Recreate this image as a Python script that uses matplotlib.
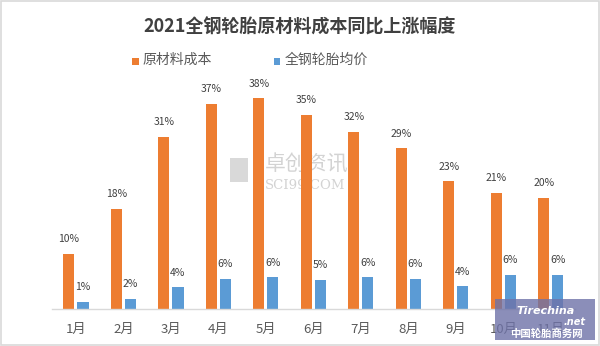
import matplotlib
matplotlib.use("Agg")
import matplotlib.pyplot as plt
from matplotlib.patches import Rectangle
import numpy as np

plt.rcParams['font.family'] = ['Noto Sans CJK SC', 'DejaVu Sans']

months = ["1月", "2月", "3月", "4月", "5月", "6月", "7月", "8月", "9月", "10月", "11月"]
raw_cost = [10, 18, 31, 37, 38, 35, 32, 29, 23, 21, 20]
raw_cost_labels = ["10%", "18%", "31%", "37%", "38%", "35%", "32%", "29%", "23%", "21%", "20%"]
tire_price = [1.3, 1.8, 3.9, 5.4, 5.7, 5.2, 5.7, 5.4, 4.1, 6.1, 6.1]
tire_price_labels = ["1%", "2%", "4%", "6%", "6%", "5%", "6%", "6%", "4%", "6%", "6%"]
series_names = ["原材料成本", "全钢轮胎均价"]
title = "2021全钢轮胎原材料成本同比上涨幅度"

c_orange = "#ED7D31"
c_blue = "#5B9BD5"
c_text = "#404040"

fig = plt.figure(figsize=(6.0, 3.46), dpi=100)
fig.patch.set_facecolor("white")
fig.patches.append(Rectangle((0.002, 0.003), 0.996, 0.994, transform=fig.transFigure,
                             fill=False, edgecolor="#D9D9D9", linewidth=1.2))

ax = fig.add_axes([0.087, 0.107, 0.8705, 0.676])
ax.patch.set_alpha(0)
x = np.arange(len(months))
w = 0.235
off = 0.148
b1 = ax.bar(x - off, raw_cost, width=w, color=c_orange, zorder=2)
b2 = ax.bar(x + off, tire_price, width=w, color=c_blue, zorder=2)

for rect, lab in zip(b1, raw_cost_labels):
    ax.annotate(lab, (rect.get_x() + rect.get_width() / 2, rect.get_height()),
                xytext=(0, 7), textcoords="offset points", ha="center", va="bottom",
                fontsize=7.5, color=c_text, zorder=3)
for rect, lab in zip(b2, tire_price_labels):
    ax.annotate(lab, (rect.get_x() + rect.get_width() / 2, rect.get_height()),
                xytext=(0, 7), textcoords="offset points", ha="center", va="bottom",
                fontsize=7.5, color=c_text, zorder=3)

ax.set_xlim(-0.5, len(months) - 0.5)
ax.set_ylim(0, 42.2)
ax.set_xticks(x)
ax.set_xticklabels(months, fontsize=9.5, color="#595959")
ax.tick_params(axis="x", length=0, pad=10)
ax.set_yticks([])
for s in ["top", "right", "left"]:
    ax.spines[s].set_visible(False)
ax.spines["bottom"].set_color("#D9D9D9")
ax.spines["bottom"].set_linewidth(1.0)

fig.text(0.5, 0.922, title, ha="center", va="center", fontsize=13, fontweight="bold",
         color=c_text)

# legend
fig.patches.append(Rectangle((0.220, 0.812), 0.011, 0.019, transform=fig.transFigure,
                             facecolor=c_orange, edgecolor="none"))
fig.text(0.238, 0.826, series_names[0], ha="left", va="center", fontsize=10, color="#595959")
fig.patches.append(Rectangle((0.456, 0.812), 0.011, 0.019, transform=fig.transFigure,
                             facecolor=c_blue, edgecolor="none"))
fig.text(0.474, 0.826, series_names[1], ha="left", va="center", fontsize=10, color="#595959")

# watermark (SCI99), drawn behind the bars
wm_ax = fig.add_axes([0, 0, 1, 1], zorder=-1)
wm_ax.axis("off")
wm_ax.add_patch(Rectangle((0.383, 0.474), 0.030, 0.069, facecolor="#D3D3D3",
                          edgecolor="none", alpha=0.85))
wm_ax.text(0.441, 0.524, "卓创资讯", ha="left", va="center", fontsize=15, color="#D3D3D3")
wm_ax.text(0.441, 0.463, "SCI99.COM", ha="left", va="center", fontsize=9.5, color="#D3D3D3",
           family="DejaVu Serif")

# watermark (tirechina)
fig.patches.append(Rectangle((0.825, 0.017), 0.167, 0.119, transform=fig.transFigure,
                             facecolor="#6E72A8", edgecolor="none", alpha=0.8, zorder=5))
fig.text(0.86, 0.10, "Tirechina", ha="left", va="center", fontsize=8, color="white",
         fontstyle="italic", fontweight="bold", family="DejaVu Sans", zorder=6)
fig.text(0.94, 0.07, ".net", ha="left", va="center", fontsize=7, color="white",
         fontstyle="italic", fontweight="bold", family="DejaVu Sans", zorder=6)
fig.text(0.91, 0.037, "中国轮胎商务网", ha="center", va="center", fontsize=7.5, color="white",
         fontweight="bold", zorder=6)

fig.savefig("out.png", dpi=100)
